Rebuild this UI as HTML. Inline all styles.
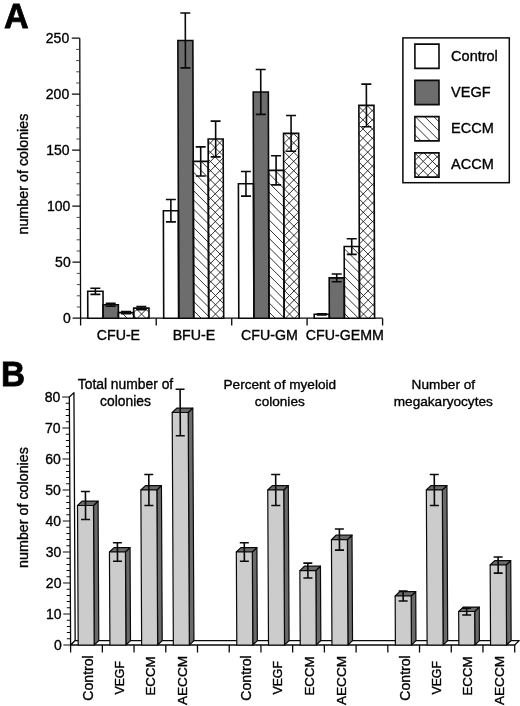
<!DOCTYPE html>
<html lang="en"><head><meta charset="utf-8"><title>Figure</title>
<style>html,body{margin:0;padding:0;background:#fff;}svg{display:block;}text{font-family:"Liberation Sans", Arial, sans-serif;fill:#000;stroke:#000;stroke-width:0.35px;}</style></head><body>
<svg width="520" height="706" viewBox="0 0 520 706">
<rect width="520" height="706" fill="#fff"/>
<text transform="translate(3.9,27.6) scale(0.96,1)" font-size="35.6" font-weight="bold" style="stroke-width:0.8px">A</text>
<g transform="matrix(1,0,0.003,1,-0.954,0)" stroke="#0a0a0a" stroke-width="1.3" fill="none">
<path d="M80.6,38.199 V318.2 H382.6"/>
<path d="M72.6,318.20 H80.6" stroke-width="1.2"/>
<path d="M76.899,307.00 H80.6" stroke-width="0.9" stroke="#333"/>
<path d="M76.899,295.80 H80.6" stroke-width="0.9" stroke="#333"/>
<path d="M76.899,284.60 H80.6" stroke-width="0.9" stroke="#333"/>
<path d="M76.899,273.40 H80.6" stroke-width="0.9" stroke="#333"/>
<path d="M72.6,262.20 H80.6" stroke-width="1.2"/>
<path d="M76.899,251.00 H80.6" stroke-width="0.9" stroke="#333"/>
<path d="M76.899,239.80 H80.6" stroke-width="0.9" stroke="#333"/>
<path d="M76.899,228.60 H80.6" stroke-width="0.9" stroke="#333"/>
<path d="M76.899,217.40 H80.6" stroke-width="0.9" stroke="#333"/>
<path d="M72.6,206.20 H80.6" stroke-width="1.2"/>
<path d="M76.899,195.00 H80.6" stroke-width="0.9" stroke="#333"/>
<path d="M76.899,183.80 H80.6" stroke-width="0.9" stroke="#333"/>
<path d="M76.899,172.60 H80.6" stroke-width="0.9" stroke="#333"/>
<path d="M76.899,161.40 H80.6" stroke-width="0.9" stroke="#333"/>
<path d="M72.6,150.20 H80.6" stroke-width="1.2"/>
<path d="M76.899,139.00 H80.6" stroke-width="0.9" stroke="#333"/>
<path d="M76.899,127.80 H80.6" stroke-width="0.9" stroke="#333"/>
<path d="M76.899,116.60 H80.6" stroke-width="0.9" stroke="#333"/>
<path d="M76.899,105.40 H80.6" stroke-width="0.9" stroke="#333"/>
<path d="M72.6,94.20 H80.6" stroke-width="1.2"/>
<path d="M76.899,83.00 H80.6" stroke-width="0.9" stroke="#333"/>
<path d="M76.899,71.80 H80.6" stroke-width="0.9" stroke="#333"/>
<path d="M76.899,60.60 H80.6" stroke-width="0.9" stroke="#333"/>
<path d="M76.899,49.40 H80.6" stroke-width="0.9" stroke="#333"/>
<path d="M72.6,38.20 H80.6" stroke-width="1.2"/>
<path d="M80.6,318.2 V325.599"/>
<path d="M156.2,318.2 V325.599"/>
<path d="M231.7,318.2 V325.599"/>
<path d="M307.1,318.2 V325.599"/>
<path d="M382.6,318.2 V325.599"/>
</g>
<text x="70.9" y="322.50" font-size="14" text-anchor="end">0</text>
<text x="70.7" y="266.50" font-size="14" text-anchor="end">50</text>
<text x="70.3" y="210.50" font-size="14" text-anchor="end">100</text>
<text x="69.5" y="154.50" font-size="14" text-anchor="end">150</text>
<text x="69.2" y="98.50" font-size="14" text-anchor="end">200</text>
<text x="69.2" y="42.50" font-size="14" text-anchor="end">250</text>
<text transform="translate(28,174) rotate(-90)" font-size="14.3" text-anchor="middle">number of colonies</text>
<rect x="402.9" y="37.9" width="106.4" height="144.8" fill="#fff" stroke="#0a0a0a" stroke-width="1.5"/>
<text x="118.40" y="339.9" font-size="14.2" text-anchor="middle">CFU-E</text>
<text x="193.95" y="339.9" font-size="14.2" text-anchor="middle">BFU-E</text>
<text x="269.40" y="339.9" font-size="14.2" text-anchor="middle">CFU-GM</text>
<text x="344.85" y="339.9" font-size="14.2" text-anchor="middle">CFU-GEMM</text>
<text x="451.1" y="60.70" font-size="14.5">Control</text>
<text x="451.1" y="96.95" font-size="14.5">VEGF</text>
<text x="451.1" y="133.20" font-size="14.5">ECCM</text>
<text x="451.1" y="169.45" font-size="14.5">ACCM</text>
<g transform="matrix(1,0,0.003,1,-0.954,0)">
<rect x="87.80" y="291.32" width="15.3" height="26.88" fill="#fff"/>
<rect x="103.10" y="304.76" width="15.3" height="13.44" fill="#6d6d6d"/>
<rect x="118.40" y="312.60" width="15.3" height="5.60" fill="#fff"/>
<rect x="133.70" y="308.12" width="15.3" height="10.08" fill="#fff"/>
<rect x="163.70" y="210.68" width="15.0" height="107.52" fill="#fff"/>
<rect x="178.70" y="40.44" width="15.0" height="277.76" fill="#6d6d6d"/>
<rect x="193.70" y="161.40" width="15.0" height="156.80" fill="#fff"/>
<rect x="208.70" y="139.00" width="15.0" height="179.20" fill="#fff"/>
<rect x="238.80" y="183.80" width="15.1" height="134.40" fill="#fff"/>
<rect x="253.90" y="91.96" width="15.1" height="226.24" fill="#6d6d6d"/>
<rect x="269.00" y="170.36" width="15.1" height="147.84" fill="#fff"/>
<rect x="284.10" y="133.40" width="15.1" height="184.80" fill="#fff"/>
<rect x="314.20" y="314.28" width="15.1" height="3.92" fill="#fff"/>
<rect x="329.30" y="277.88" width="15.1" height="40.32" fill="#6d6d6d"/>
<rect x="344.40" y="246.52" width="15.1" height="71.68" fill="#fff"/>
<rect x="359.50" y="105.40" width="15.1" height="212.80" fill="#fff"/>
<rect x="415.69" y="44.10" width="24.1" height="24.30" fill="#fff"/>
<rect x="415.58" y="80.35" width="24.1" height="24.30" fill="#6d6d6d"/>
<rect x="415.47" y="116.60" width="24.1" height="24.30" fill="#fff"/>
<rect x="415.36" y="152.85" width="24.1" height="24.30" fill="#fff"/>
<defs>
<clipPath id="c1"><rect x="118.40" y="312.60" width="15.3" height="5.60"/><rect x="133.70" y="308.12" width="15.3" height="10.08"/><rect x="193.70" y="161.40" width="15.0" height="156.80"/><rect x="208.70" y="139.00" width="15.0" height="179.20"/><rect x="269.00" y="170.36" width="15.1" height="147.84"/><rect x="284.10" y="133.40" width="15.1" height="184.80"/><rect x="344.40" y="246.52" width="15.1" height="71.68"/><rect x="359.50" y="105.40" width="15.1" height="212.80"/><rect x="415.47" y="116.60" width="24.1" height="24.30"/><rect x="415.36" y="152.85" width="24.1" height="24.30"/></clipPath>
<clipPath id="c2"><rect x="133.70" y="308.12" width="15.3" height="10.08"/><rect x="208.70" y="139.00" width="15.0" height="179.20"/><rect x="284.10" y="133.40" width="15.1" height="184.80"/><rect x="359.50" y="105.40" width="15.1" height="212.80"/><rect x="415.36" y="152.85" width="24.1" height="24.30"/></clipPath>
</defs>
<path clip-path="url(#c1)" d="M80,-404.25L515,30.75M80,-395.00L515,40.00M80,-385.75L515,49.25M80,-376.50L515,58.50M80,-367.25L515,67.75M80,-358.00L515,77.00M80,-348.75L515,86.25M80,-339.50L515,95.50M80,-330.25L515,104.75M80,-321.00L515,114.00M80,-311.75L515,123.25M80,-302.50L515,132.50M80,-293.25L515,141.75M80,-284.00L515,151.00M80,-274.75L515,160.25M80,-265.50L515,169.50M80,-256.25L515,178.75M80,-247.00L515,188.00M80,-237.75L515,197.25M80,-228.50L515,206.50M80,-219.25L515,215.75M80,-210.00L515,225.00M80,-200.75L515,234.25M80,-191.50L515,243.50M80,-182.25L515,252.75M80,-173.00L515,262.00M80,-163.75L515,271.25M80,-154.50L515,280.50M80,-145.25L515,289.75M80,-136.00L515,299.00M80,-126.75L515,308.25M80,-117.50L515,317.50M80,-108.25L515,326.75M80,-99.00L515,336.00M80,-89.75L515,345.25M80,-80.50L515,354.50M80,-71.25L515,363.75M80,-62.00L515,373.00M80,-52.75L515,382.25M80,-43.50L515,391.50M80,-34.25L515,400.75M80,-25.00L515,410.00M80,-15.75L515,419.25M80,-6.50L515,428.50M80,2.75L515,437.75M80,12.00L515,447.00M80,21.25L515,456.25M80,30.50L515,465.50M80,39.75L515,474.75M80,49.00L515,484.00M80,58.25L515,493.25M80,67.50L515,502.50M80,76.75L515,511.75M80,86.00L515,521.00M80,95.25L515,530.25M80,104.50L515,539.50M80,113.75L515,548.75M80,123.00L515,558.00M80,132.25L515,567.25M80,141.50L515,576.50M80,150.75L515,585.75M80,160.00L515,595.00M80,169.25L515,604.25M80,178.50L515,613.50M80,187.75L515,622.75M80,197.00L515,632.00M80,206.25L515,641.25M80,215.50L515,650.50M80,224.75L515,659.75M80,234.00L515,669.00M80,243.25L515,678.25M80,252.50L515,687.50M80,261.75L515,696.75M80,271.00L515,706.00M80,280.25L515,715.25M80,289.50L515,724.50M80,298.75L515,733.75M80,308.00L515,743.00M80,317.25L515,752.25M80,326.50L515,761.50" stroke="#1c1c1c" stroke-width="0.9" fill="none"/>
<path clip-path="url(#c2)" d="M80,33.35L515,-401.65M80,42.60L515,-392.40M80,51.85L515,-383.15M80,61.10L515,-373.90M80,70.35L515,-364.65M80,79.60L515,-355.40M80,88.85L515,-346.15M80,98.10L515,-336.90M80,107.35L515,-327.65M80,116.60L515,-318.40M80,125.85L515,-309.15M80,135.10L515,-299.90M80,144.35L515,-290.65M80,153.60L515,-281.40M80,162.85L515,-272.15M80,172.10L515,-262.90M80,181.35L515,-253.65M80,190.60L515,-244.40M80,199.85L515,-235.15M80,209.10L515,-225.90M80,218.35L515,-216.65M80,227.60L515,-207.40M80,236.85L515,-198.15M80,246.10L515,-188.90M80,255.35L515,-179.65M80,264.60L515,-170.40M80,273.85L515,-161.15M80,283.10L515,-151.90M80,292.35L515,-142.65M80,301.60L515,-133.40M80,310.85L515,-124.15M80,320.10L515,-114.90M80,329.35L515,-105.65M80,338.60L515,-96.40M80,347.85L515,-87.15M80,357.10L515,-77.90M80,366.35L515,-68.65M80,375.60L515,-59.40M80,384.85L515,-50.15M80,394.10L515,-40.90M80,403.35L515,-31.65M80,412.60L515,-22.40M80,421.85L515,-13.15M80,431.10L515,-3.90M80,440.35L515,5.35M80,449.60L515,14.60M80,458.85L515,23.85M80,468.10L515,33.10M80,477.35L515,42.35M80,486.60L515,51.60M80,495.85L515,60.85M80,505.10L515,70.10M80,514.35L515,79.35M80,523.60L515,88.60M80,532.85L515,97.85M80,542.10L515,107.10M80,551.35L515,116.35M80,560.60L515,125.60M80,569.85L515,134.85M80,579.10L515,144.10M80,588.35L515,153.35M80,597.60L515,162.60M80,606.85L515,171.85M80,616.10L515,181.10M80,625.35L515,190.35M80,634.60L515,199.60M80,643.85L515,208.85M80,653.10L515,218.10M80,662.35L515,227.35M80,671.60L515,236.60M80,680.85L515,245.85M80,690.10L515,255.10M80,699.35L515,264.35M80,708.60L515,273.60M80,717.85L515,282.85M80,727.10L515,292.10M80,736.35L515,301.35M80,745.60L515,310.60M80,754.85L515,319.85M80,764.10L515,329.10" stroke="#1c1c1c" stroke-width="0.9" fill="none"/>
<rect x="87.80" y="291.32" width="15.3" height="26.88" fill="none" stroke="#0a0a0a" stroke-width="1.6"/>
<rect x="103.10" y="304.76" width="15.3" height="13.44" fill="none" stroke="#0a0a0a" stroke-width="1.6"/>
<rect x="118.40" y="312.60" width="15.3" height="5.60" fill="none" stroke="#0a0a0a" stroke-width="1.6"/>
<rect x="133.70" y="308.12" width="15.3" height="10.08" fill="none" stroke="#0a0a0a" stroke-width="1.6"/>
<rect x="163.70" y="210.68" width="15.0" height="107.52" fill="none" stroke="#0a0a0a" stroke-width="1.6"/>
<rect x="178.70" y="40.44" width="15.0" height="277.76" fill="none" stroke="#0a0a0a" stroke-width="1.6"/>
<rect x="193.70" y="161.40" width="15.0" height="156.80" fill="none" stroke="#0a0a0a" stroke-width="1.6"/>
<rect x="208.70" y="139.00" width="15.0" height="179.20" fill="none" stroke="#0a0a0a" stroke-width="1.6"/>
<rect x="238.80" y="183.80" width="15.1" height="134.40" fill="none" stroke="#0a0a0a" stroke-width="1.6"/>
<rect x="253.90" y="91.96" width="15.1" height="226.24" fill="none" stroke="#0a0a0a" stroke-width="1.6"/>
<rect x="269.00" y="170.36" width="15.1" height="147.84" fill="none" stroke="#0a0a0a" stroke-width="1.6"/>
<rect x="284.10" y="133.40" width="15.1" height="184.80" fill="none" stroke="#0a0a0a" stroke-width="1.6"/>
<rect x="314.20" y="314.28" width="15.1" height="3.92" fill="none" stroke="#0a0a0a" stroke-width="1.6"/>
<rect x="329.30" y="277.88" width="15.1" height="40.32" fill="none" stroke="#0a0a0a" stroke-width="1.6"/>
<rect x="344.40" y="246.52" width="15.1" height="71.68" fill="none" stroke="#0a0a0a" stroke-width="1.6"/>
<rect x="359.50" y="105.40" width="15.1" height="212.80" fill="none" stroke="#0a0a0a" stroke-width="1.6"/>
<rect x="415.69" y="44.10" width="24.1" height="24.30" fill="none" stroke="#0a0a0a" stroke-width="1.6"/>
<rect x="415.58" y="80.35" width="24.1" height="24.30" fill="none" stroke="#0a0a0a" stroke-width="1.6"/>
<rect x="415.47" y="116.60" width="24.1" height="24.30" fill="none" stroke="#0a0a0a" stroke-width="1.6"/>
<rect x="415.36" y="152.85" width="24.1" height="24.30" fill="none" stroke="#0a0a0a" stroke-width="1.6"/>
<path d="M95.45,288.30 V294.34 M90.45,288.30 h10 M90.45,294.34 h10" stroke="#0a0a0a" stroke-width="1.6" fill="none"/>
<path d="M110.75,303.30 V306.22 M105.75,303.30 h10 M105.75,306.22 h10" stroke="#0a0a0a" stroke-width="1.6" fill="none"/>
<path d="M126.05,311.59 V313.61 M121.05,311.59 h10 M121.05,313.61 h10" stroke="#0a0a0a" stroke-width="1.6" fill="none"/>
<path d="M141.35,306.66 V309.58 M136.35,306.66 h10 M136.35,309.58 h10" stroke="#0a0a0a" stroke-width="1.6" fill="none"/>
<path d="M171.20,199.48 V221.88 M166.20,199.48 h10 M166.20,221.88 h10" stroke="#0a0a0a" stroke-width="1.6" fill="none"/>
<path d="M186.20,13.00 V67.88 M181.20,13.00 h10 M181.20,67.88 h10" stroke="#0a0a0a" stroke-width="1.6" fill="none"/>
<path d="M201.20,146.84 V175.96 M196.20,146.84 h10 M196.20,175.96 h10" stroke="#0a0a0a" stroke-width="1.6" fill="none"/>
<path d="M216.20,121.08 V156.92 M211.20,121.08 h10 M211.20,156.92 h10" stroke="#0a0a0a" stroke-width="1.6" fill="none"/>
<path d="M246.35,171.48 V196.12 M241.35,171.48 h10 M241.35,196.12 h10" stroke="#0a0a0a" stroke-width="1.6" fill="none"/>
<path d="M261.45,69.56 V114.36 M256.45,69.56 h10 M256.45,114.36 h10" stroke="#0a0a0a" stroke-width="1.6" fill="none"/>
<path d="M276.55,155.80 V184.92 M271.55,155.80 h10 M271.55,184.92 h10" stroke="#0a0a0a" stroke-width="1.6" fill="none"/>
<path d="M291.65,115.48 V151.32 M286.65,115.48 h10 M286.65,151.32 h10" stroke="#0a0a0a" stroke-width="1.6" fill="none"/>
<path d="M321.75,313.72 V314.84 M316.75,313.72 h10 M316.75,314.84 h10" stroke="#0a0a0a" stroke-width="1.6" fill="none"/>
<path d="M336.85,273.96 V281.80 M331.85,273.96 h10 M331.85,281.80 h10" stroke="#0a0a0a" stroke-width="1.6" fill="none"/>
<path d="M351.95,238.68 V254.36 M346.95,238.68 h10 M346.95,254.36 h10" stroke="#0a0a0a" stroke-width="1.6" fill="none"/>
<path d="M367.05,84.12 V126.68 M362.05,84.12 h10 M362.05,126.68 h10" stroke="#0a0a0a" stroke-width="1.6" fill="none"/>
</g>
<text transform="translate(0.9,385.6) scale(0.93,1)" font-size="35.8" font-weight="bold" style="stroke-width:0.8px">B</text>
<g transform="matrix(1,0,0.005,1,-3.225,0)" stroke="#0a0a0a" stroke-width="1.3" fill="none" stroke-linejoin="round">
<path d="M70.6,397.0 L75.199,392.6 V640.6 L70.6,645.0 Z" fill="#fff"/>
<path d="M70.6,645.0 H514.68 L519.28,640.6 H75.199 Z" fill="#fff"/>
<path d="M63.399,645.00 H70.6" stroke-width="1.2"/>
<path d="M66.899,638.80 H70.6" stroke-width="1"/>
<path d="M66.899,632.60 H70.6" stroke-width="1"/>
<path d="M66.899,626.40 H70.6" stroke-width="1"/>
<path d="M66.899,620.20 H70.6" stroke-width="1"/>
<path d="M63.399,614.00 H70.6" stroke-width="1.2"/>
<path d="M66.899,607.80 H70.6" stroke-width="1"/>
<path d="M66.899,601.60 H70.6" stroke-width="1"/>
<path d="M66.899,595.40 H70.6" stroke-width="1"/>
<path d="M66.899,589.20 H70.6" stroke-width="1"/>
<path d="M63.399,583.00 H70.6" stroke-width="1.2"/>
<path d="M66.899,576.80 H70.6" stroke-width="1"/>
<path d="M66.899,570.60 H70.6" stroke-width="1"/>
<path d="M66.899,564.40 H70.6" stroke-width="1"/>
<path d="M66.899,558.20 H70.6" stroke-width="1"/>
<path d="M63.399,552.00 H70.6" stroke-width="1.2"/>
<path d="M66.899,545.80 H70.6" stroke-width="1"/>
<path d="M66.899,539.60 H70.6" stroke-width="1"/>
<path d="M66.899,533.40 H70.6" stroke-width="1"/>
<path d="M66.899,527.20 H70.6" stroke-width="1"/>
<path d="M63.399,521.00 H70.6" stroke-width="1.2"/>
<path d="M66.899,514.80 H70.6" stroke-width="1"/>
<path d="M66.899,508.60 H70.6" stroke-width="1"/>
<path d="M66.899,502.40 H70.6" stroke-width="1"/>
<path d="M66.899,496.20 H70.6" stroke-width="1"/>
<path d="M63.399,490.00 H70.6" stroke-width="1.2"/>
<path d="M66.899,483.80 H70.6" stroke-width="1"/>
<path d="M66.899,477.60 H70.6" stroke-width="1"/>
<path d="M66.899,471.40 H70.6" stroke-width="1"/>
<path d="M66.899,465.20 H70.6" stroke-width="1"/>
<path d="M63.399,459.00 H70.6" stroke-width="1.2"/>
<path d="M66.899,452.80 H70.6" stroke-width="1"/>
<path d="M66.899,446.60 H70.6" stroke-width="1"/>
<path d="M66.899,440.40 H70.6" stroke-width="1"/>
<path d="M66.899,434.20 H70.6" stroke-width="1"/>
<path d="M63.399,428.00 H70.6" stroke-width="1.2"/>
<path d="M66.899,421.80 H70.6" stroke-width="1"/>
<path d="M66.899,415.60 H70.6" stroke-width="1"/>
<path d="M66.899,409.40 H70.6" stroke-width="1"/>
<path d="M66.899,403.20 H70.6" stroke-width="1"/>
<path d="M63.399,397.00 H70.6" stroke-width="1.2"/>
<path d="M70.60,645.0 V652.5"/>
<path d="M102.32,645.0 V652.5"/>
<path d="M134.04,645.0 V652.5"/>
<path d="M165.76,645.0 V652.5"/>
<path d="M197.48,645.0 V652.5"/>
<path d="M229.20,645.0 V652.5"/>
<path d="M260.92,645.0 V652.5"/>
<path d="M292.64,645.0 V652.5"/>
<path d="M324.36,645.0 V652.5"/>
<path d="M356.08,645.0 V652.5"/>
<path d="M387.80,645.0 V652.5"/>
<path d="M419.52,645.0 V652.5"/>
<path d="M451.24,645.0 V652.5"/>
<path d="M482.96,645.0 V652.5"/>
<path d="M514.68,645.0 V652.5"/>
</g>
<text x="61.80" y="649.60" font-size="14" text-anchor="end">0</text>
<text x="61.62" y="618.60" font-size="14" text-anchor="end">10</text>
<text x="61.45" y="587.60" font-size="14" text-anchor="end">20</text>
<text x="61.27" y="556.60" font-size="14" text-anchor="end">30</text>
<text x="61.10" y="525.60" font-size="14" text-anchor="end">40</text>
<text x="60.92" y="494.60" font-size="14" text-anchor="end">50</text>
<text x="60.75" y="463.60" font-size="14" text-anchor="end">60</text>
<text x="60.57" y="432.60" font-size="14" text-anchor="end">70</text>
<text x="60.40" y="401.60" font-size="14" text-anchor="end">80</text>
<text transform="translate(28.2,507.5) rotate(-90)" font-size="14.3" text-anchor="middle">number of colonies</text>
<g transform="matrix(1,0,0.005,1,-3.225,0)" stroke="#0a0a0a" stroke-width="1.2" stroke-linejoin="round">
<path d="M94.20,505.50 l4.6,-4.4 V640.6 l-4.6,4.4 Z" fill="#6a6a6a"/>
<path d="M78.20,505.50 l4.6,-4.4 h16.0 l-4.6,4.4 Z" fill="#6a6a6a"/>
<rect x="78.20" y="505.50" width="16.0" height="139.50" fill="#cccccc"/>
<path d="M86.20,491.55 V519.45 M81.70,491.55 h9 M81.70,519.45 h9" fill="none" stroke-width="1.6"/>
</g>
<text transform="translate(92.66,678) rotate(-90)" font-size="14.1" text-anchor="middle">Control</text>
<g transform="matrix(1,0,0.005,1,-3.225,0)" stroke="#0a0a0a" stroke-width="1.2" stroke-linejoin="round">
<path d="M125.92,552.00 l4.6,-4.4 V640.6 l-4.6,4.4 Z" fill="#6a6a6a"/>
<path d="M109.92,552.00 l4.6,-4.4 h16.0 l-4.6,4.4 Z" fill="#6a6a6a"/>
<rect x="109.92" y="552.00" width="16.0" height="93.00" fill="#cccccc"/>
<path d="M117.92,542.70 V561.30 M113.42,542.70 h9 M113.42,561.30 h9" fill="none" stroke-width="1.6"/>
</g>
<text transform="translate(123.68,677.8) rotate(-90)" font-size="12.3" text-anchor="middle">VEGF</text>
<g transform="matrix(1,0,0.005,1,-3.225,0)" stroke="#0a0a0a" stroke-width="1.2" stroke-linejoin="round">
<path d="M157.64,490.00 l4.6,-4.4 V640.6 l-4.6,4.4 Z" fill="#6a6a6a"/>
<path d="M141.64,490.00 l4.6,-4.4 h16.0 l-4.6,4.4 Z" fill="#6a6a6a"/>
<rect x="141.64" y="490.00" width="16.0" height="155.00" fill="#cccccc"/>
<path d="M149.64,474.50 V505.50 M145.14,474.50 h9 M145.14,505.50 h9" fill="none" stroke-width="1.6"/>
</g>
<text transform="translate(155.10,676) rotate(-90)" font-size="13.3" text-anchor="middle">ECCM</text>
<g transform="matrix(1,0,0.005,1,-3.225,0)" stroke="#0a0a0a" stroke-width="1.2" stroke-linejoin="round">
<path d="M189.36,412.50 l4.6,-4.4 V640.6 l-4.6,4.4 Z" fill="#6a6a6a"/>
<path d="M173.36,412.50 l4.6,-4.4 h16.0 l-4.6,4.4 Z" fill="#6a6a6a"/>
<rect x="173.36" y="412.50" width="16.0" height="232.50" fill="#cccccc"/>
<path d="M181.36,389.25 V435.75 M176.86,389.25 h9 M176.86,435.75 h9" fill="none" stroke-width="1.6"/>
</g>
<text transform="translate(186.92,680.5) rotate(-90)" font-size="13.6" text-anchor="middle">AECCM</text>
<g transform="matrix(1,0,0.005,1,-3.225,0)" stroke="#0a0a0a" stroke-width="1.2" stroke-linejoin="round">
<path d="M252.80,552.00 l4.6,-4.4 V640.6 l-4.6,4.4 Z" fill="#6a6a6a"/>
<path d="M236.80,552.00 l4.6,-4.4 h16.0 l-4.6,4.4 Z" fill="#6a6a6a"/>
<rect x="236.80" y="552.00" width="16.0" height="93.00" fill="#cccccc"/>
<path d="M244.80,542.70 V561.30 M240.30,542.70 h9 M240.30,561.30 h9" fill="none" stroke-width="1.6"/>
</g>
<text transform="translate(251.26,678) rotate(-90)" font-size="14.1" text-anchor="middle">Control</text>
<g transform="matrix(1,0,0.005,1,-3.225,0)" stroke="#0a0a0a" stroke-width="1.2" stroke-linejoin="round">
<path d="M284.52,490.00 l4.6,-4.4 V640.6 l-4.6,4.4 Z" fill="#6a6a6a"/>
<path d="M268.52,490.00 l4.6,-4.4 h16.0 l-4.6,4.4 Z" fill="#6a6a6a"/>
<rect x="268.52" y="490.00" width="16.0" height="155.00" fill="#cccccc"/>
<path d="M276.52,474.50 V505.50 M272.02,474.50 h9 M272.02,505.50 h9" fill="none" stroke-width="1.6"/>
</g>
<text transform="translate(282.28,677.8) rotate(-90)" font-size="12.3" text-anchor="middle">VEGF</text>
<g transform="matrix(1,0,0.005,1,-3.225,0)" stroke="#0a0a0a" stroke-width="1.2" stroke-linejoin="round">
<path d="M316.24,570.60 l4.6,-4.4 V640.6 l-4.6,4.4 Z" fill="#6a6a6a"/>
<path d="M300.24,570.60 l4.6,-4.4 h16.0 l-4.6,4.4 Z" fill="#6a6a6a"/>
<rect x="300.24" y="570.60" width="16.0" height="74.40" fill="#cccccc"/>
<path d="M308.24,563.16 V578.04 M303.74,563.16 h9 M303.74,578.04 h9" fill="none" stroke-width="1.6"/>
</g>
<text transform="translate(313.70,676) rotate(-90)" font-size="13.3" text-anchor="middle">ECCM</text>
<g transform="matrix(1,0,0.005,1,-3.225,0)" stroke="#0a0a0a" stroke-width="1.2" stroke-linejoin="round">
<path d="M347.96,539.60 l4.6,-4.4 V640.6 l-4.6,4.4 Z" fill="#6a6a6a"/>
<path d="M331.96,539.60 l4.6,-4.4 h16.0 l-4.6,4.4 Z" fill="#6a6a6a"/>
<rect x="331.96" y="539.60" width="16.0" height="105.40" fill="#cccccc"/>
<path d="M339.96,529.06 V550.14 M335.46,529.06 h9 M335.46,550.14 h9" fill="none" stroke-width="1.6"/>
</g>
<text transform="translate(345.52,680.5) rotate(-90)" font-size="13.6" text-anchor="middle">AECCM</text>
<g transform="matrix(1,0,0.005,1,-3.225,0)" stroke="#0a0a0a" stroke-width="1.2" stroke-linejoin="round">
<path d="M411.40,596.02 l4.6,-4.4 V640.6 l-4.6,4.4 Z" fill="#6a6a6a"/>
<path d="M395.40,596.02 l4.6,-4.4 h16.0 l-4.6,4.4 Z" fill="#6a6a6a"/>
<rect x="395.40" y="596.02" width="16.0" height="48.98" fill="#cccccc"/>
<path d="M403.40,591.06 V600.98 M398.90,591.06 h9 M398.90,600.98 h9" fill="none" stroke-width="1.6"/>
</g>
<text transform="translate(409.86,678) rotate(-90)" font-size="14.1" text-anchor="middle">Control</text>
<g transform="matrix(1,0,0.005,1,-3.225,0)" stroke="#0a0a0a" stroke-width="1.2" stroke-linejoin="round">
<path d="M443.12,490.00 l4.6,-4.4 V640.6 l-4.6,4.4 Z" fill="#6a6a6a"/>
<path d="M427.12,490.00 l4.6,-4.4 h16.0 l-4.6,4.4 Z" fill="#6a6a6a"/>
<rect x="427.12" y="490.00" width="16.0" height="155.00" fill="#cccccc"/>
<path d="M435.12,474.50 V505.50 M430.62,474.50 h9 M430.62,505.50 h9" fill="none" stroke-width="1.6"/>
</g>
<text transform="translate(440.88,677.8) rotate(-90)" font-size="12.3" text-anchor="middle">VEGF</text>
<g transform="matrix(1,0,0.005,1,-3.225,0)" stroke="#0a0a0a" stroke-width="1.2" stroke-linejoin="round">
<path d="M474.84,611.52 l4.6,-4.4 V640.6 l-4.6,4.4 Z" fill="#6a6a6a"/>
<path d="M458.84,611.52 l4.6,-4.4 h16.0 l-4.6,4.4 Z" fill="#6a6a6a"/>
<rect x="458.84" y="611.52" width="16.0" height="33.48" fill="#cccccc"/>
<path d="M466.84,608.11 V614.93 M462.34,608.11 h9 M462.34,614.93 h9" fill="none" stroke-width="1.6"/>
</g>
<text transform="translate(472.30,676) rotate(-90)" font-size="13.3" text-anchor="middle">ECCM</text>
<g transform="matrix(1,0,0.005,1,-3.225,0)" stroke="#0a0a0a" stroke-width="1.2" stroke-linejoin="round">
<path d="M506.56,565.02 l4.6,-4.4 V640.6 l-4.6,4.4 Z" fill="#6a6a6a"/>
<path d="M490.56,565.02 l4.6,-4.4 h16.0 l-4.6,4.4 Z" fill="#6a6a6a"/>
<rect x="490.56" y="565.02" width="16.0" height="79.98" fill="#cccccc"/>
<path d="M498.56,556.96 V573.08 M494.06,556.96 h9 M494.06,573.08 h9" fill="none" stroke-width="1.6"/>
</g>
<text transform="translate(504.12,680.5) rotate(-90)" font-size="13.6" text-anchor="middle">AECCM</text>
<text x="125.5" y="388.50" font-size="13.85" text-anchor="middle">Total number of</text>
<text x="125.5" y="406.30" font-size="13.85" text-anchor="middle">colonies</text>
<text x="279.8" y="388.50" font-size="13.6" text-anchor="middle">Percent of myeloid</text>
<text x="279.8" y="406.30" font-size="13.6" text-anchor="middle">colonies</text>
<text x="443.3" y="388.50" font-size="13.6" text-anchor="middle">Number of</text>
<text x="443.3" y="406.30" font-size="13.6" text-anchor="middle">megakaryocytes</text>
</svg></body></html>
